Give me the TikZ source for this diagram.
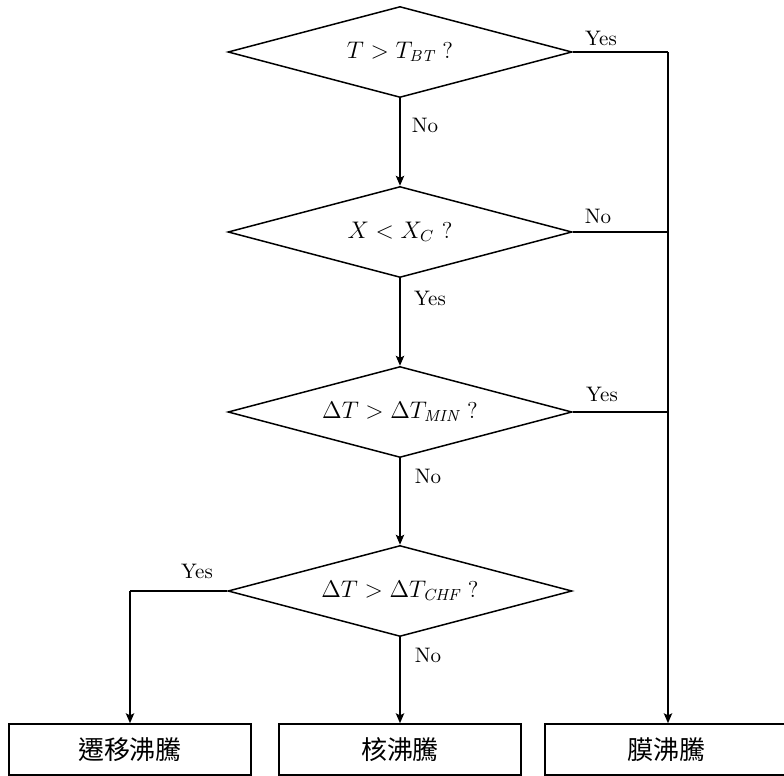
\documentclass[tikz,border=0pt]{standalone}
\usepackage{fontspec}
\newfontfamily\cjk{Noto Sans CJK TC}
\usetikzlibrary{shapes.geometric,arrows.meta}
\begin{document}
\begin{tikzpicture}[x=0.5pt,y=-0.5pt,
  line width=0.75pt,
  dec/.style={diamond, draw, aspect=3.78, minimum width=172pt, minimum height=45.5pt, inner sep=0pt, font=\fontsize{11.5}{13}\selectfont},
  res/.style={draw, rectangle, minimum width=121pt, minimum height=25.5pt, inner sep=0pt, font=\cjk\fontsize{13}{15}\selectfont},
  lab/.style={font=\fontsize{10.5}{12}\selectfont, inner sep=0pt},
  arr/.style={-{Stealth[length=5pt,width=4.2pt,inset=1pt]}}]
\useasboundingbox (0,0) rectangle (784,776);
\node[dec] (d1) at (400,52) {$T > T_{\mathit{BT}}$ ?};
\node[dec] (d2) at (400,232) {$X < X_{C}$ ?};
\node[dec] (d3) at (400,412) {$\Delta T > \Delta T_{\mathit{MIN}}$ ?};
\node[dec] (d4) at (400,591) {$\Delta T > \Delta T_{\mathit{CHF}}$ ?};
\node[res] (b1) at (130,749.5) {遷移沸騰};
\node[res] (b2) at (400,749.5) {核沸騰};
\node[res] (b3) at (666,749.5) {膜沸騰};
\coordinate (r1) at (668,52);
\coordinate (r2) at (668,232);
\coordinate (r3) at (668,412);
\coordinate (l4) at (130,591);
\draw[arr] (d1.south) -- (d2.north);
\draw[arr] (d2.south) -- (d3.north);
\draw[arr] (d3.south) -- (d4.north);
\draw[arr] (d4.south) -- (b2.north);
\draw (d1.east) -- (r1);
\draw (d2.east) -- (r2);
\draw (d3.east) -- (r3);
\draw[arr] (r1) -- (b3.north -| r1);
\draw (d4.west) -- (l4);
\draw[arr] (l4) -- (b1.north);
\node[lab] (y1) at (601,38) {Yes};
\node[lab] (n1) at (425,125) {No};
\node[lab] (n2) at (598,216) {No};
\node[lab] (y2) at (430,298) {Yes};
\node[lab] (y3) at (602,394) {Yes};
\node[lab] (n3) at (428,476) {No};
\node[lab] (y4) at (197,571) {Yes};
\node[lab] (n4) at (428,655) {No};
\end{tikzpicture}
\end{document}
